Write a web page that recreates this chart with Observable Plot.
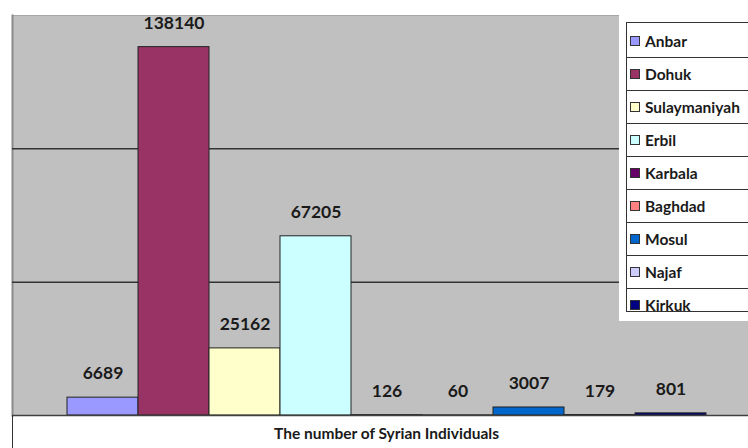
<!DOCTYPE html>
<html>
<head>
<meta charset="utf-8">
<script src="https://cdn.jsdelivr.net/npm/d3@7"></script>
<script src="https://cdn.jsdelivr.net/npm/@observablehq/plot@0.6"></script>
<style>
  html, body { margin: 0; padding: 0; background: #fff; }
  #chart { position: relative; width: 748px; height: 448px; overflow: hidden; font-family: Lato, "Open Sans", sans-serif; }
  #chart svg { position: absolute; left: 0; top: 0; }
  .legend-outer { position: absolute; left: 619px; top: 15px; width: 129px; height: 306px; background: #fff; overflow: hidden; }
  .legend-box { position: absolute; left: 7px; top: 7px; width: 150px; height: 290px; border: 1px solid #333; border-right: none; box-sizing: border-box; padding-top: 2px; overflow: hidden; background: #fff; }
  .legend-row { height: 33px; border-bottom: 1px solid #333; box-sizing: border-box; display: flex; align-items: center; padding-left: 3px; }
  .legend-row .sw { width: 8px; height: 8px; border: 1px solid #333; margin-right: 5px; flex: none; }
  .legend-row .lb { font: bold 15.5px Lato, sans-serif; color: #1a1a1a; white-space: nowrap; }
  .caption { position: absolute; left: 12px; top: 415px; width: 736px; height: 33px; border-left: 1px solid #333; box-sizing: border-box; padding-left: 12px; text-align: center; font: bold 15.5px Lato, sans-serif; color: #1a1a1a; line-height: 36px; }
</style>
</head>
<body>
<div id="chart"></div>
<script>
// Governorates and number of Syrian individuals in each
const regions = ["Anbar", "Dohuk", "Sulaymaniyah", "Erbil", "Karbala", "Baghdad", "Mosul", "Najaf", "Kirkuk"];
const individuals = [6689, 138140, 25162, 67205, 126, 60, 3007, 179, 801];
const colors = ["#9999ff", "#993366", "#ffffcc", "#ccffff", "#660066", "#ff8080", "#0066cc", "#ccccff", "#000080"];
const gridValues = [50000, 100000];
const yMax = 150000;
const captionText = "The number of Syrian Individuals";

const data = regions.map((region, i) => ({region, value: individuals[i]}));

const chart = Plot.plot({
  width: 748,
  height: 448,
  marginTop: 15,
  marginBottom: 33,
  marginLeft: 12,
  marginRight: 0,
  style: {background: "transparent", fontFamily: "Lato, sans-serif"},
  x: {domain: regions, axis: null, paddingInner: 0, paddingOuter: 0.651, align: 0.57},
  y: {domain: [0, yMax], axis: null},
  color: {domain: regions, range: colors},
  marks: [
    Plot.frame({fill: "#c0c0c0"}),
    Plot.frame({anchor: "top", stroke: "#a6a6a6", strokeWidth: 1}),
    Plot.frame({anchor: "left", stroke: "#8a8a8a", strokeWidth: 2}),
    Plot.ruleY(gridValues, {stroke: "#333", strokeWidth: 1.5}),
    Plot.barY(data, {x: "region", y: "value", fill: "region", stroke: "#222", strokeWidth: 1}),
    Plot.ruleY([0], {stroke: "#404040", strokeWidth: 1.5}),
    Plot.text(data, {
      x: "region", y: "value", text: d => String(d.value),
      dy: -24, fontSize: 17.5, fontWeight: "bold", fill: "#1a1a1a", fontFamily: "Lato, sans-serif"
    })
  ]
});

const root = document.getElementById("chart");
root.appendChild(chart);

// Legend panel on the right, one row per governorate
const outer = document.createElement("div");
outer.className = "legend-outer";
const box = document.createElement("div");
box.className = "legend-box";
regions.forEach((r, i) => {
  const row = document.createElement("div");
  row.className = "legend-row";
  const sw = document.createElement("span");
  sw.className = "sw";
  sw.style.background = colors[i];
  const lb = document.createElement("span");
  lb.className = "lb";
  lb.textContent = r;
  row.appendChild(sw);
  row.appendChild(lb);
  box.appendChild(row);
});
outer.appendChild(box);
root.appendChild(outer);

// Category axis title in the box beneath the plot
const cap = document.createElement("div");
cap.className = "caption";
cap.textContent = captionText;
root.appendChild(cap);
</script>
</body>
</html>
